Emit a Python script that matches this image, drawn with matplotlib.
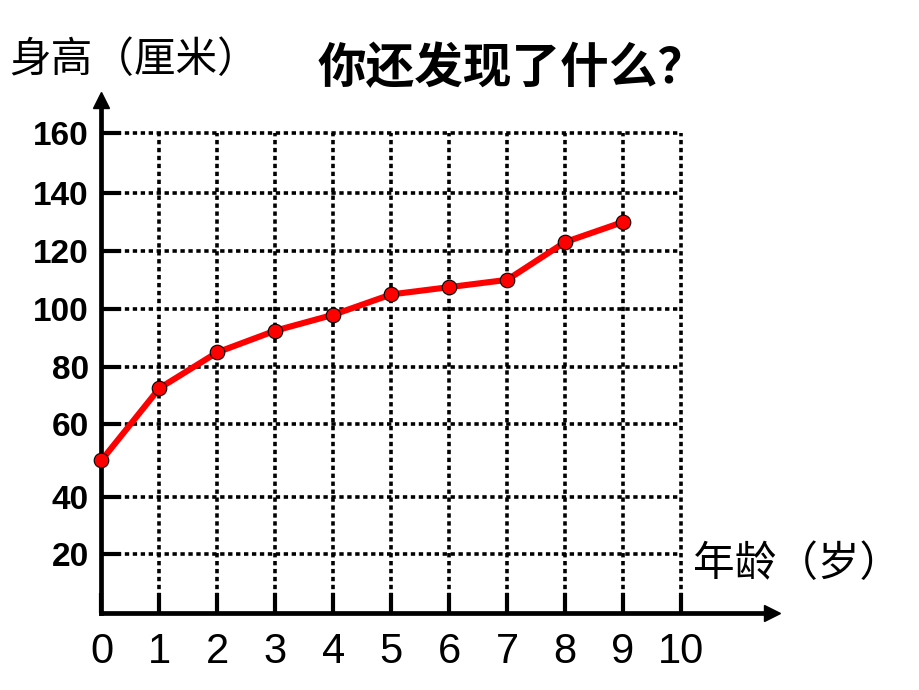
import numpy as np
import matplotlib
matplotlib.use("Agg")
import matplotlib.pyplot as plt

# ---- data ----
ages = [0, 1, 2, 3, 4, 5, 6, 7, 8, 9]
heights = [50, 72.5, 85, 92.5, 98, 105, 107.5, 110, 123, 130]
x_ticks = [0, 1, 2, 3, 4, 5, 6, 7, 8, 9, 10]
x_tick_labels = ["0", "1", "2", "3", "4", "5", "6", "7", "8", "9", "10"]
y_ticks = [20, 40, 60, 80, 100, 120, 140, 160]
y_tick_labels = ["20", "40", "60", "80", "100", "120", "140", "160"]
title = "你还发现了什么？"
ylabel = "身高（厘米）"
xlabel = "年龄（岁）"

# hand-drawn, slightly irregular vertical scale of the original grid
scale_vals = [-1000, 0, 20, 40, 60, 80, 100, 120, 140, 160, 1000]
scale_pos = [-2930, 0, 58.7, 116.3, 189, 246.3, 304, 362.3, 419.7, 480.3, 480.3 + 840 * 2.94]


def fwd(v):
    return np.interp(v, scale_vals, scale_pos)


def inv(u):
    return np.interp(u, scale_pos, scale_vals)


W, H = 920, 690
fig = plt.figure(figsize=(W / 100, H / 100), dpi=100)
x0_px, y0_px = 101.5, 613
right_px, top_px = 772, 100
ax = fig.add_axes([x0_px / W, (H - y0_px) / H, (right_px - x0_px) / W, (y0_px - top_px) / H])
ax.set_yscale("function", functions=(fwd, inv))
ax.set_xlim(0, (right_px - x0_px) / 57.95)
ax.set_ylim(0, float(inv(y0_px - top_px)))

for s in ["top", "right"]:
    ax.spines[s].set_visible(False)
for s in ["left", "bottom"]:
    ax.spines[s].set_linewidth(3.4)
    ax.spines[s].set_capstyle("projecting")

# arrow heads
ax.plot(1, 0, marker=">", color="black", markersize=12, transform=ax.transAxes, clip_on=False, zorder=5)
ax.plot(0, 1, marker="^", color="black", markersize=12, transform=ax.transAxes, clip_on=False, zorder=5)

# dotted grid
dot = (0, (1.2, 1.0))
ax.hlines(y_ticks, 0, 10, colors="black", linewidth=2.6, linestyles=[dot], zorder=1)
ax.vlines(x_ticks[1:], 0, 160, colors="black", linewidth=2.6, linestyles=[dot], zorder=1)

# ticks
ax.set_xticks(x_ticks)
ax.set_xticklabels(x_tick_labels, fontfamily="Liberation Sans", fontsize=30)
ax.set_yticks(y_ticks)
ax.set_yticklabels(y_tick_labels, fontfamily="Liberation Sans", fontsize=24, fontweight="bold")
ax.yaxis.set_minor_locator(matplotlib.ticker.NullLocator())
ax.tick_params(axis="both", direction="in", length=14.5, width=3, color="black")
ax.tick_params(axis="x", pad=14)
ax.tick_params(axis="y", pad=9)

# data line
ax.plot(ages, heights, color="#ff0000", linewidth=4.4, marker="o", markersize=10.5,
        markerfacecolor="#ff0000", markeredgecolor="black", markeredgewidth=0.8,
        zorder=4, clip_on=False)

cjk = ["Noto Sans CJK SC", "DejaVu Sans"]
fig.text(512 / W, 1 - 69 / H, title, fontfamily=cjk, fontsize=35, fontweight="bold",
         ha="center", va="center")
fig.text(134 / W, 1 - 60 / H, ylabel, fontfamily=cjk, fontsize=30, ha="center", va="center")
fig.text(797 / W, 1 - 565 / H, xlabel, fontfamily=cjk, fontsize=30, ha="center", va="center")

fig.savefig("out.png", dpi=100)
